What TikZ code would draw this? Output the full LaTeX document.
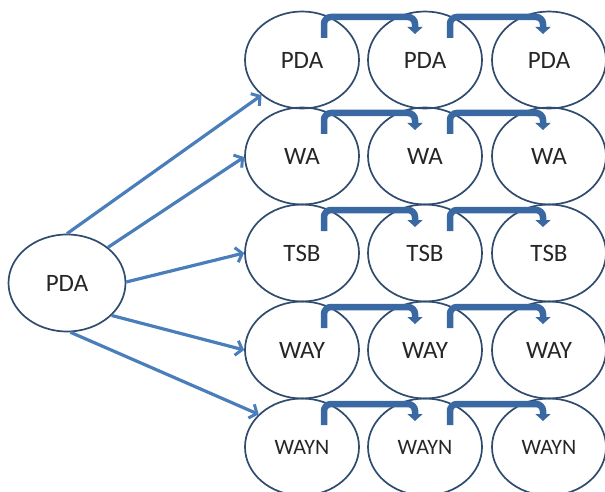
\documentclass[tikz,border=0pt]{standalone}
\usepackage{fontspec}
\setmainfont{Carlito}
\usetikzlibrary{shapes.geometric,arrows.meta}
\definecolor{edgeblue}{HTML}{2F4B6E}
\definecolor{fanblue}{HTML}{4A7EBB}
\definecolor{bentblue}{HTML}{3A68A3}
\begin{document}
\begin{tikzpicture}[x=1pt,y=-1pt,
  oval/.style={ellipse,draw=edgeblue,line width=1.7pt,minimum width=114pt,minimum height=97pt,inner sep=0pt,font=\fontsize{25}{28}\selectfont,text=black!85},
  smalltext/.style={font=\fontsize{22}{26}\selectfont},
  fan/.style={draw=fanblue,line width=3.2pt,-{Straight Barb[length=6pt,width=15pt,line width=3pt]}},
  bent/.style={draw=bentblue,line width=6.5pt,rounded corners=7pt,-{Triangle[length=7pt,width=15pt]}}]
\useasboundingbox (0,0) rectangle (605,492);
\node[oval,minimum width=117pt] (L) at (67,283) {PDA};
% grid
\foreach \r/\y/\t in {1/60/PDA,2/156/WA,3/253/TSB,4/350/WAY}{
  \node[oval] (r\r c1) at (302,\y) {\t};
  \node[oval] (r\r c2) at (425,\y) {\t};
  \node[oval] (r\r c3) at (549,\y) {\t};
}
\node[oval,smalltext] (r5c1) at (302,447) {WAYN};
\node[oval,smalltext] (r5c2) at (425,447) {WAYN};
\node[oval,smalltext] (r5c3) at (549,447) {WAYN};
% fan arrows
\draw[fan] (L.90) -- (r1c1.221);
\draw[fan] (L.41) -- (r2c1.181);
\draw[fan] (L.1) -- (r3c1.180);
\draw[fan] (L.-36) -- (r4c1.180);
\draw[fan] (L.-86) -- (r5c1.143);
% bent arrows
\foreach \r in {1,2,3,4,5}{
  \draw[bent] ([shift={(22,-22)}]r\r c1.center) -- ([shift={(22,-43)}]r\r c1.center) -- ([shift={(-10,-43)}]r\r c2.center) -- ([shift={(-10,-26)}]r\r c2.center);
  \draw[bent] ([shift={(25,-22)}]r\r c2.center) -- ([shift={(25,-43)}]r\r c2.center) -- ([shift={(-6,-43)}]r\r c3.center) -- ([shift={(-6,-26)}]r\r c3.center);
}
\end{tikzpicture}
\end{document}
